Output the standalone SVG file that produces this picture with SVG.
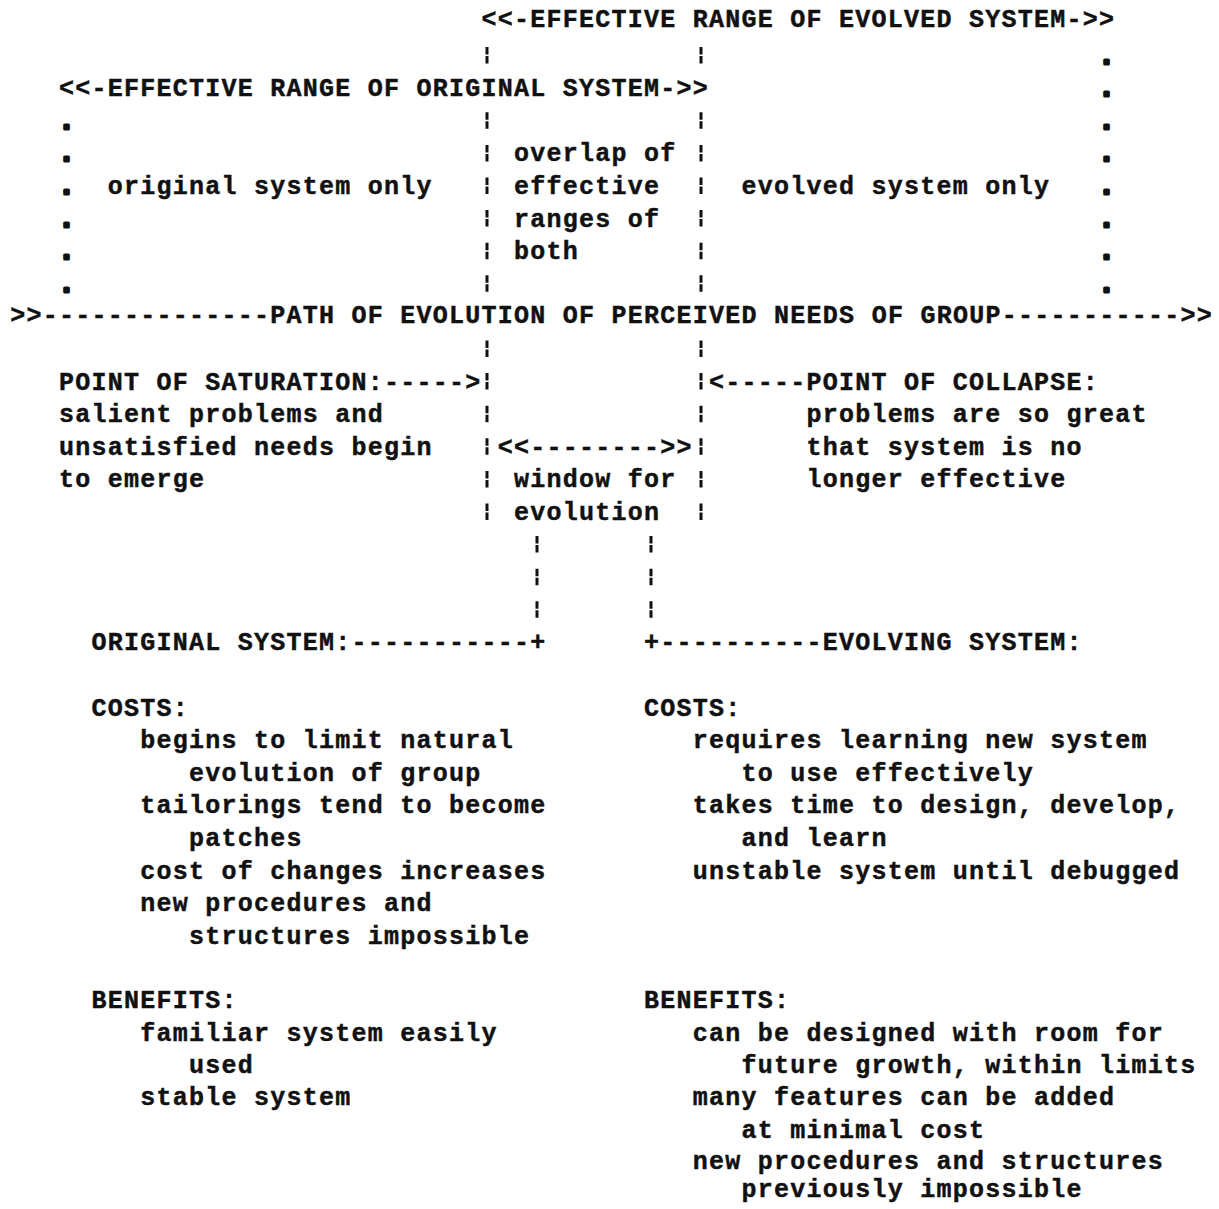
<svg xmlns="http://www.w3.org/2000/svg" width="1219" height="1209" viewBox="0 0 1219 1209" xml:space="preserve">
<style>
.t{font-family:"Liberation Mono","DejaVu Sans Mono",monospace;font-weight:bold;font-size:25px;letter-spacing:1.25px;fill:#111;stroke:#111;stroke-width:0.45;white-space:pre}
.d{stroke-width:3.2;stroke-linejoin:round}
.bar{stroke:#111;stroke-width:3;fill:none;stroke-dasharray:7.5 1.5 7.5 16.1}
</style>
<rect width="1219" height="1209" fill="#fff"/>
<g id="header-evolved"><text class="t" x="481.5" y="27">&lt;&lt;-EFFECTIVE RANGE OF EVOLVED SYSTEM-&gt;&gt;</text></g>
<g id="header-original"><text class="t" x="59" y="96.2">&lt;&lt;-EFFECTIVE RANGE OF ORIGINAL SYSTEM-&gt;&gt;</text></g>
<g id="range-markers">
<text class="t d" x="1099" y="63.6">.</text>
<text class="t d" x="1099" y="96.2">.</text>
<text class="t d" x="59" y="128.8">.</text><text class="t d" x="1099" y="128.8">.</text>
<text class="t d" x="59" y="161.4">.</text><text class="t d" x="1099" y="161.4">.</text>
<text class="t d" x="59" y="194">.</text><text class="t d" x="1099" y="194">.</text>
<text class="t d" x="59" y="226.6">.</text><text class="t d" x="1099" y="226.6">.</text>
<text class="t d" x="59" y="259.2">.</text><text class="t d" x="1099" y="259.2">.</text>
<text class="t d" x="59" y="291.8">.</text><text class="t d" x="1099" y="291.8">.</text>
</g>
<g id="original-only"><text class="t" x="107.75" y="194">original system only</text></g>
<g id="overlap">
<text class="t" x="514" y="161.4">overlap of</text>
<text class="t" x="514" y="194">effective</text>
<text class="t" x="514" y="226.6">ranges of</text>
<text class="t" x="514" y="259.2">both</text>
</g>
<g id="evolved-only"><text class="t" x="741.5" y="194">evolved system only</text></g>
<g id="path"><text class="t" x="10.25" y="323.4">&gt;&gt;--------------PATH OF EVOLUTION OF PERCEIVED NEEDS OF GROUP-----------&gt;&gt;</text></g>
<g id="saturation">
<text class="t" x="59" y="389.6">POINT OF SATURATION:-----&gt;</text>
<text class="t" x="59" y="422.2">salient problems and</text>
<text class="t" x="59" y="454.8">unsatisfied needs begin</text>
<text class="t" x="59" y="487.4">to emerge</text>
</g>
<g id="collapse">
<text class="t" x="709" y="389.6">&lt;-----POINT OF COLLAPSE:</text>
<text class="t" x="806.5" y="422.2">problems are so great</text>
<text class="t" x="806.5" y="454.8">that system is no</text>
<text class="t" x="806.5" y="487.4">longer effective</text>
</g>
<g id="window">
<text class="t" x="497.75" y="454.8">&lt;&lt;--------&gt;&gt;</text>
<text class="t" x="514" y="487.4">window for</text>
<text class="t" x="514" y="520">evolution</text>
</g>
<g id="original-system">
<text class="t" x="91.5" y="650.4">ORIGINAL SYSTEM:-----------+</text>
<text class="t" x="91.5" y="715.6">COSTS:</text>
<text class="t" x="140.25" y="748.2">begins to limit natural</text>
<text class="t" x="189" y="780.8">evolution of group</text>
<text class="t" x="140.25" y="813.4">tailorings tend to become</text>
<text class="t" x="189" y="846">patches</text>
<text class="t" x="140.25" y="878.6">cost of changes increases</text>
<text class="t" x="140.25" y="911.2">new procedures and</text>
<text class="t" x="189" y="943.8">structures impossible</text>
<text class="t" x="91.5" y="1008">BENEFITS:</text>
<text class="t" x="140.25" y="1040.6">familiar system easily</text>
<text class="t" x="189" y="1073">used</text>
<text class="t" x="140.25" y="1105.4">stable system</text>
</g>
<g id="evolving-system">
<text class="t" x="644" y="650.4">+----------EVOLVING SYSTEM:</text>
<text class="t" x="644" y="715.6">COSTS:</text>
<text class="t" x="692.75" y="748.2">requires learning new system</text>
<text class="t" x="741.5" y="780.8">to use effectively</text>
<text class="t" x="692.75" y="813.4">takes time to design, develop,</text>
<text class="t" x="741.5" y="846">and learn</text>
<text class="t" x="692.75" y="878.6">unstable system until debugged</text>
<text class="t" x="644" y="1008">BENEFITS:</text>
<text class="t" x="692.75" y="1040.6">can be designed with room for</text>
<text class="t" x="741.5" y="1073">future growth, within limits</text>
<text class="t" x="692.75" y="1105.4">many features can be added</text>
<text class="t" x="741.5" y="1137.6">at minimal cost</text>
<text class="t" x="692.75" y="1169">new procedures and structures</text>
<text class="t" x="741.5" y="1197">previously impossible</text>
</g>
<g id="connectors">
<line class="bar" x1="487" y1="47.1" x2="487" y2="63.6"/>
<line class="bar" x1="701" y1="47.1" x2="701" y2="63.6"/>
<line class="bar" x1="487" y1="112.3" x2="487" y2="291.8"/>
<line class="bar" x1="701" y1="112.3" x2="701" y2="291.8"/>
<line class="bar" x1="487" y1="340.5" x2="487" y2="520"/>
<line class="bar" x1="701" y1="340.5" x2="701" y2="520"/>
<line class="bar" x1="537" y1="536.1" x2="537" y2="617.8"/>
<line class="bar" x1="651" y1="536.1" x2="651" y2="617.8"/>
</g>
</svg>
